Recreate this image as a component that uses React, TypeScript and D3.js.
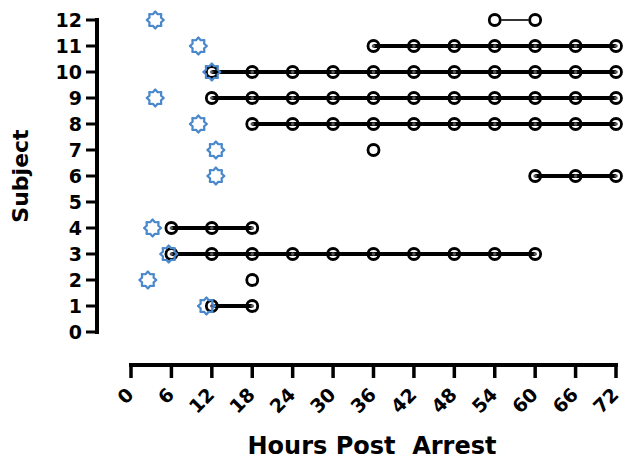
import * as d3 from "d3";

const WIDTH = 624;
const HEIGHT = 460;

const hourTicks = [0, 6, 12, 18, 24, 30, 36, 42, 48, 54, 60, 66, 72];
const subjectTicks = [0, 1, 2, 3, 4, 5, 6, 7, 8, 9, 10, 11, 12];

// sampling hours for each subject
const samples: { subject: number; hours: number[]; open: boolean }[] = [
  { subject: 1, hours: [12, 18], open: false },
  { subject: 2, hours: [18], open: true },
  { subject: 3, hours: [6, 12, 18, 24, 30, 36, 42, 48, 54, 60], open: false },
  { subject: 4, hours: [6, 12, 18], open: false },
  { subject: 6, hours: [60, 66, 72], open: false },
  { subject: 7, hours: [36], open: true },
  { subject: 8, hours: [18, 24, 30, 36, 42, 48, 54, 60, 66, 72], open: false },
  { subject: 9, hours: [12, 18, 24, 30, 36, 42, 48, 54, 60, 66, 72], open: false },
  { subject: 10, hours: [12, 18, 24, 30, 36, 42, 48, 54, 60, 66, 72], open: false },
  { subject: 11, hours: [36, 42, 48, 54, 60, 66, 72], open: false },
  { subject: 12, hours: [54, 60], open: true },
];

// star markers (event hour per subject)
const starSubjects = [1, 2, 3, 4, 6, 7, 8, 9, 10, 11, 12];
const starHours = [11.2, 2.5, 5.6, 3.2, 12.6, 12.6, 10, 3.6, 12, 10, 3.6];

const x = d3.scaleLinear().domain([0, 72]).range([131, 616]);
const y = d3.scaleLinear().domain([0, 12]).range([332, 20]);

const FONT = "'DejaVu Sans', 'Liberation Sans', Arial, sans-serif";

function starPath(cx: number, cy: number, outer: number, inner: number, points: number) {
  const pts: [number, number][] = [];
  for (let i = 0; i < points * 2; i++) {
    const r = i % 2 === 0 ? outer : inner;
    const a = (Math.PI * i) / points - Math.PI / 2;
    pts.push([cx + r * Math.cos(a), cy + r * Math.sin(a)]);
  }
  return d3.line()(pts) + "Z";
}

export default function App() {
  const line = d3
    .line<number>()
    .x((d) => x(d))
    .y(0);

  return (
    <svg
      width={WIDTH}
      height={HEIGHT}
      style={{ position: "absolute", left: 0, top: 0, background: "#fff" }}
      fontFamily={FONT}
      fontWeight="bold"
    >
      {/* y axis */}
      <line x1={97} x2={97} y1={y(12) - 2} y2={y(0) + 2} stroke="#000" strokeWidth={4} />
      {subjectTicks.map((t) => (
        <g key={t} transform={`translate(0,${y(t)})`}>
          <line x1={86} x2={97} stroke="#000" strokeWidth={3} />
          <text x={82} dy="0.36em" textAnchor="end" fontSize={19}>
            {t}
          </text>
        </g>
      ))}
      <text transform={`translate(28,${y(6)}) rotate(-90)`} textAnchor="middle" fontSize={22}>
        Subject
      </text>

      {/* x axis */}
      <line x1={x(0) - 2} x2={x(72) + 2} y1={365} y2={365} stroke="#000" strokeWidth={4} />
      {hourTicks.map((t) => (
        <g key={t} transform={`translate(${x(t)},0)`}>
          <line y1={365} y2={378} stroke="#000" strokeWidth={3.5} />
          <text
            transform="translate(-1,391) rotate(-45)"
            textAnchor="end"
            dy="0.36em"
            fontSize={19}
          >
            {t}
          </text>
        </g>
      ))}
      <text x={372} y={454} textAnchor="middle" fontSize={24} style={{ whiteSpace: "pre" }}>
        {"Hours Post  Arrest"}
      </text>

      {/* subject sampling rows */}
      {samples.map((s) => (
        <g key={s.subject} transform={`translate(0,${y(s.subject)})`}>
          {s.hours.map((h) => (
            <circle key={h} cx={x(h)} cy={0} r={5.5} fill="#fff" stroke="#000" strokeWidth={2.8} />
          ))}
          {s.hours.length > 1 &&
            (s.open ? (
              <line
                x1={x(s.hours[0]) + 6.5}
                x2={x(s.hours[s.hours.length - 1]) - 6.5}
                stroke="#000"
                strokeWidth={1.6}
              />
            ) : (
              <path d={line(s.hours) ?? ""} fill="none" stroke="#000" strokeWidth={4} />
            ))}
          {!s.open &&
            s.hours.map((h) => <circle key={`c${h}`} cx={x(h)} cy={0} r={1.8} fill="#555" />)}
        </g>
      ))}

      {/* stars */}
      {starSubjects.map((s, i) => (
        <path
          key={s}
          d={starPath(x(starHours[i]), y(s), 8.5, 6.2, 8)}
          fill="none"
          stroke="#4a88cc"
          strokeWidth={2.2}
          strokeLinejoin="round"
        />
      ))}
    </svg>
  );
}
